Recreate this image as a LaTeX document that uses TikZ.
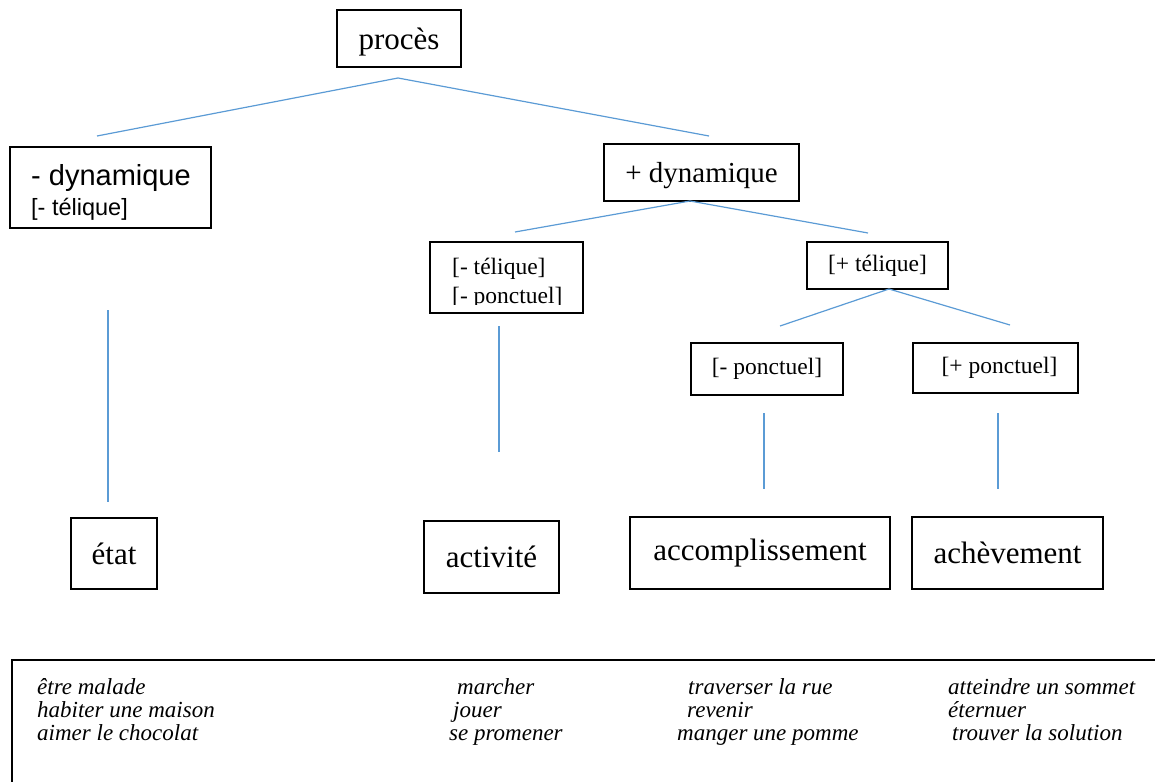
\documentclass[tikz,border=0pt]{standalone}
\usepackage{fontspec}
\setmainfont{Liberation Serif}
\setsansfont{Liberation Sans}
\usepackage{xcolor}
\usepackage{tikz}
\definecolor{linkblue}{HTML}{5B9BD5}
\tikzset{
  tree node/.style={rectangle,draw=black,line width=1.1pt,inner sep=0pt},
  big label/.style={font=\fontsize{31}{35}\selectfont},
  mid label/.style={font=\fontsize{29}{33}\selectfont},
  small label/.style={font=\fontsize{23.5}{27}\selectfont},
  example/.style={anchor=base west,inner sep=0pt,font=\fontsize{23}{23}\selectfont\itshape},
  link/.style={draw=linkblue,line width=1.2pt}
}

\begin{document}
\begin{tikzpicture}[x=1pt,y=-1pt]
\useasboundingbox (0,0) rectangle (1155,781);
\clip (0,0) rectangle (1155,781);

\node[tree node,big label,text depth=0pt,minimum width=124,minimum height=57] (Proces) at (399,38.5) {procès};
\node[tree node,minimum width=201,minimum height=81] (DynMinus) at (110.5,187.5) {};
\node[anchor=base west,inner sep=0pt,font=\sffamily\fontsize{29}{33}\selectfont] (DynMinusText) at (31,185) {- dynamique};
\node[anchor=base west,inner sep=0pt,font=\sffamily\fontsize{23.5}{27}\selectfont] (DynMinusTel) at (31,215) {[- télique]};
\node[tree node,mid label,text depth=0pt,minimum width=195,minimum height=57] (DynPlus) at (701.5,172.5) {+ dynamique};

\node[tree node,minimum width=153,minimum height=71] (TelMinus) at (506.5,277.5) {};
\node[anchor=base west,inner sep=0pt,small label] (TelMinusText) at (452,274) {[- télique]};
\coordinate (TelClip) at (583,304);
\begin{scope}
\clip (TelMinus.north west) rectangle (TelClip);
\node[anchor=base west,inner sep=0pt,small label] (TelMinusPonc) at (452,303) {[- ponctuel]};
\end{scope}
\node[tree node,small label,minimum width=141,minimum height=47] (TelPlus) at (877.5,265.5) {[+ télique]};

\node[tree node,small label,minimum width=152,minimum height=52] (PoncMinus) at (767,369) {[- ponctuel]};
\node[tree node,small label,minimum width=165,minimum height=50] (PoncPlus) at (995.5,368) {\hspace{8pt}[+ ponctuel]};

\node[tree node,big label,minimum width=86,minimum height=71] (Etat) at (114,553.5) {état};
\node[tree node,big label,minimum width=135,minimum height=72] (Activite) at (491.5,557) {activité};
\node[tree node,big label,minimum width=260,minimum height=72] (Accompl) at (760,553) {accomplissement};
\node[tree node,big label,minimum width=191,minimum height=72] (Acheve) at (1007.5,553) {achèvement};

% branches
\coordinate (ProcesFork) at (398,78);
\coordinate (ProcesLeft) at (97,136);
\coordinate (ProcesRight) at (709,136);
\coordinate (DynFork) at (690,201);
\coordinate (DynLeft) at (515,232);
\coordinate (DynRight) at (868,233);
\coordinate (TelFork) at (889,289);
\coordinate (TelLeft) at (780,326);
\coordinate (TelRight) at (1010,325);
\draw[link] (ProcesLeft) -- (ProcesFork) -- (ProcesRight);
\draw[link] (DynLeft) -- (DynFork) -- (DynRight);
\draw[link] (TelLeft) -- (TelFork) -- (TelRight);

\foreach \name/\x/\top/\bottom in {Etat/108/310/502, Activite/499/326/452, Accompl/764/413/489, Acheve/998/413/489}
{\coordinate (\name Top) at (\x,\top);
 \coordinate (\name Bottom) at (\x,\bottom);
 \draw[link] (\name Top) -- (\name Bottom);}

% examples
\coordinate (FrameCorner) at (12,660);
\coordinate (FrameBottom) at (12,800);
\coordinate (FrameRight) at (1170,660);
\draw[line width=1.3pt] (FrameBottom) -- (FrameCorner) -- (FrameRight);

\node[example] (ExEtatA) at (37,694) {être malade};
\node[example] (ExEtatB) at (37,717) {habiter une maison};
\node[example] (ExEtatC) at (37,740) {aimer le chocolat};
\node[example] (ExActA) at (457,694) {marcher};
\node[example] (ExActB) at (453,717) {jouer};
\node[example] (ExActC) at (449,740) {se promener};
\node[example] (ExAccA) at (688,694) {traverser la rue};
\node[example] (ExAccB) at (687,717) {revenir};
\node[example] (ExAccC) at (677,740) {manger une pomme};
\node[example] (ExAchA) at (948,694) {atteindre un sommet};
\node[example] (ExAchB) at (948,717) {éternuer};
\node[example] (ExAchC) at (952,740) {trouver la solution};

\end{tikzpicture}
\end{document}
